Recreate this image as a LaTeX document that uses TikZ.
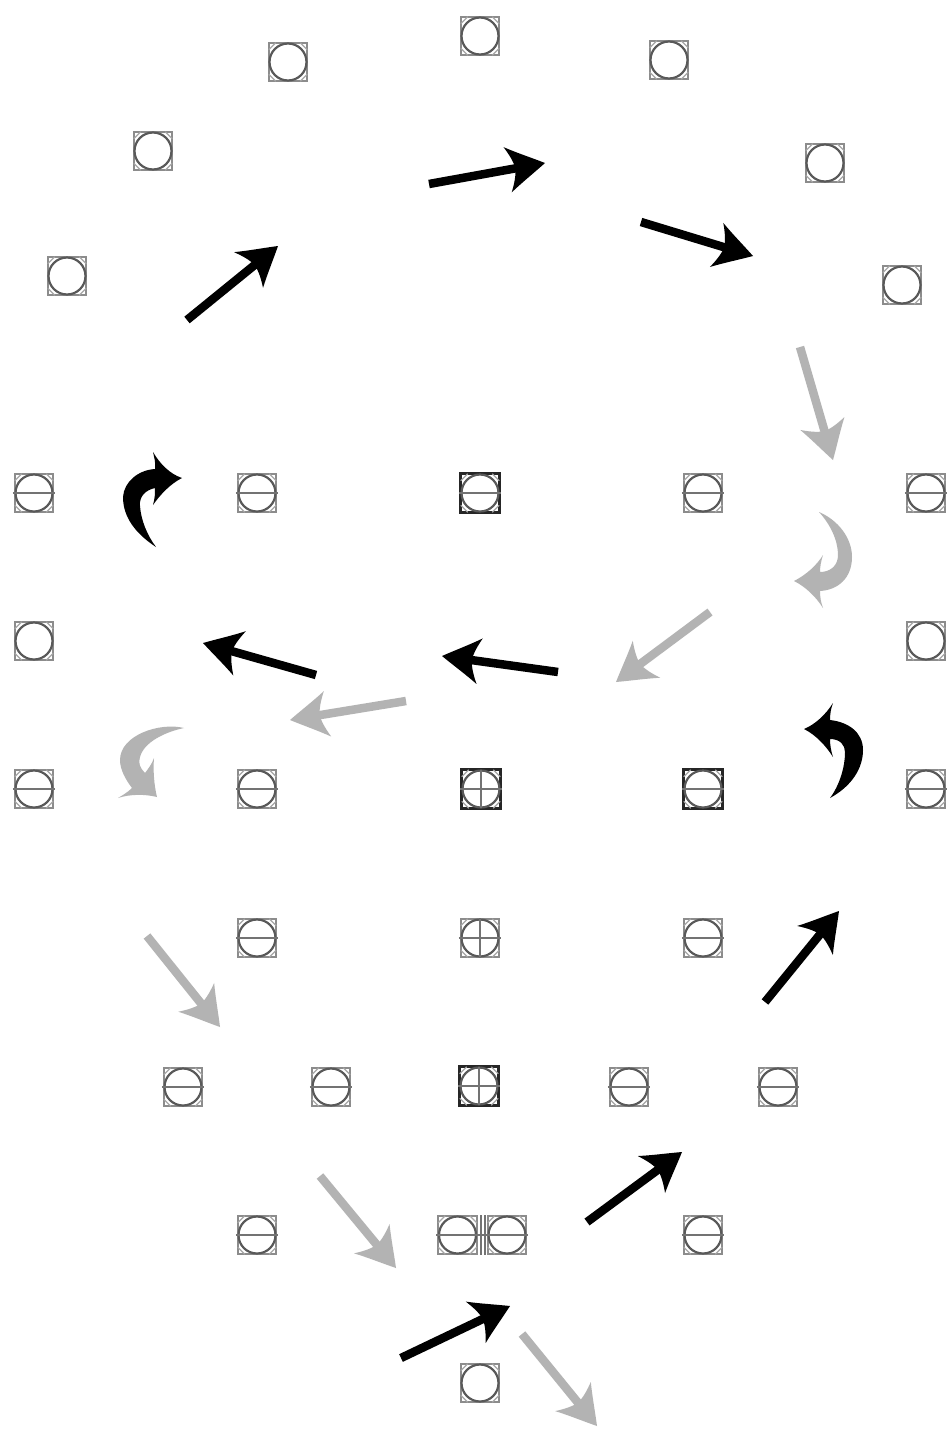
\documentclass[tikz,border=0pt]{standalone}
\usetikzlibrary{arrows.meta}
\definecolor{gr}{HTML}{B3B3B3}
\pgfdeclarearrow{
  name=SweptHead,
  setup code={
    \pgfarrowssettipend{0pt}
    \pgfarrowssetbackend{-38pt}
    \pgfarrowssetlineend{-28pt}
    \pgfarrowssetvisualbackend{-30pt}
  },
  drawing code={
    \pgfpathmoveto{\pgfqpoint{0pt}{0pt}}
    \pgfpathcurveto{\pgfqpoint{-13pt}{8pt}}{\pgfqpoint{-26pt}{15pt}}{\pgfqpoint{-38pt}{23pt}}
    \pgfpathcurveto{\pgfqpoint{-34pt}{15pt}}{\pgfqpoint{-31pt}{8pt}}{\pgfqpoint{-30pt}{0pt}}
    \pgfpathcurveto{\pgfqpoint{-31pt}{-8pt}}{\pgfqpoint{-34pt}{-15pt}}{\pgfqpoint{-38pt}{-23pt}}
    \pgfpathcurveto{\pgfqpoint{-26pt}{-15pt}}{\pgfqpoint{-13pt}{-8pt}}{\pgfqpoint{0pt}{0pt}}
    \pgfpathclose
    \pgfusepathqfill
  }
}
\tikzset{
  x=1pt,y=-1pt,
  box/.style={draw=black!45,line width=2.2pt,minimum size=38.5pt,inner sep=0pt,outer sep=0pt,rectangle},
  dark/.style={draw=black!85,line width=2.6pt},
  ring/.style={draw=black!65,line width=2.2pt},
  bar/.style={draw=black!55,line width=2.8pt},
  chord/.style={draw=black!35,line width=1.2pt},
  arrk/.style={line width=8.5pt,-{SweptHead[]}},
  arrb/.style={arrk,color=black},
  arrg/.style={arrk,color=gr},
}
\newcommand{\cellO}[4][]{\node[box,#1] (#2) at (#3,#4) {};
  \draw[ring] (#2.center) circle (18.5pt);
  \draw[chord] ([yshift=-7pt]#2.north west) -- ([xshift=7pt]#2.north west);
  \draw[chord] ([yshift=-7pt]#2.north east) -- ([xshift=-7pt]#2.north east);
  \draw[chord] ([yshift=7pt]#2.south west) -- ([xshift=7pt]#2.south west);
  \draw[chord] ([yshift=7pt]#2.south east) -- ([xshift=-7pt]#2.south east);}
\newcommand{\cellH}[4][]{\cellO[#1]{#2}{#3}{#4}
  \draw[bar] ([xshift=-2pt]#2.west) -- ([xshift=2pt]#2.east);}
\newcommand{\cellP}[4][]{\cellH[#1]{#2}{#3}{#4}
  \draw[bar] (#2.north) -- (#2.south);}
\newcommand{\arrow}[6]{\coordinate (#1s) at (#3,#4); \coordinate (#1e) at (#5,#6);
  \draw[#2] (#1s) -- (#1e);}
\begin{document}
\begin{tikzpicture}
\useasboundingbox[fill=white] (0,0) rectangle (948,1438);
% top arc
\cellO{a1}{480}{36}
\cellO{a2}{288}{62}
\cellO{a3}{669}{60}
\cellO{a4}{153}{151}
\cellO{a5}{825}{163}
\cellO{a6}{67}{276}
\cellO{a7}{902}{285}
% row 493
\cellH{b1}{34}{493}
\cellH{b2}{257}{493}
\cellH[dark]{b3}{480}{493}
\cellH{b4}{703}{493}
\cellH{b5}{926}{493}
% row 641
\cellO{c1}{34}{641}
\cellO{c2}{926}{641}
% row 789
\cellH{d1}{34}{789}
\cellH{d2}{257}{789}
\cellP[dark]{d3}{481}{789}
\cellH[dark]{d4}{703}{789}
\cellH{d5}{926}{789}
% row 938
\cellH{e1}{257}{938}
\cellP{e2}{480}{938}
\cellH{e3}{703}{938}
% row 1087
\cellH{f1}{183}{1087}
\cellH{f2}{331}{1087}
\cellP[dark]{f3}{479}{1086}
\cellH{f4}{629}{1087}
\cellH{f5}{778}{1087}
% row 1235
\cellH{g1}{257}{1235}
\cellH{g2}{457.5}{1235}
\cellH{g3}{507}{1235}
\cellH{g4}{703}{1235}
\draw[bar] (g2.east) -- (g3.west);
\coordinate (gt) at (482.5,1215);
\coordinate (gb) at (482.5,1255);
\draw[bar,line width=2pt] ([xshift=-1.5pt]gt) -- ([xshift=-1.5pt]gb);
\draw[bar,line width=2pt] ([xshift=2pt]gt) -- ([xshift=2pt]gb);
% bottom
\cellO{h1}{480}{1383}
% straight black arrows
\arrow{k1}{arrb}{187}{320}{278}{246}
\arrow{k2}{arrb}{429}{184}{545}{163}
\arrow{k3}{arrb}{641}{222}{753}{256}
\arrow{k4}{arrb}{316}{675}{203}{643}
\arrow{k5}{arrb}{558}{672}{442}{656}
\arrow{k6}{arrb}{765}{1002}{839}{911}
\arrow{k7}{arrb}{587}{1222}{682}{1152}
\arrow{k8}{arrb}{401}{1358}{510}{1306}
% straight grey arrows
\arrow{n1}{arrg}{800}{347}{833}{460}
\arrow{n2}{arrg}{710}{612}{616}{682}
\arrow{n3}{arrg}{406}{701}{290}{720}
\arrow{n4}{arrg}{147}{936}{220}{1027}
\arrow{n5}{arrg}{320}{1176}{396}{1268}
\arrow{n6}{arrg}{522}{1334}{597}{1426}
% curved arrows
\fill[black] (156,547) .. controls (130,530) and (123,512) .. (123,497)
  .. controls (124,482) and (138,470) .. (155,469)
  .. controls (156,463) and (154,457) .. (153,452)
  .. controls (160,464) and (170,474) .. (182,478)
  .. controls (170,484) and (160,495) .. (153,505)
  .. controls (155,498) and (155,493) .. (155,488)
  .. controls (146,490) and (139,496) .. (140,506)
  .. controls (141,520) and (147,535) .. (156,547) -- cycle;
\fill[gr] (819,512) .. controls (838,520) and (852,538) .. (852,557)
  .. controls (852,578) and (838,590) .. (820,591)
  .. controls (820,597) and (821,603) .. (823,608)
  .. controls (816,597) and (806,587) .. (794,581)
  .. controls (806,575) and (817,565) .. (823,555)
  .. controls (821,561) and (820,567) .. (820,572)
  .. controls (830,572) and (838,566) .. (838,555)
  .. controls (838,540) and (830,524) .. (819,512) -- cycle;
\fill[gr] (184,728) .. controls (160,722) and (120,735) .. (120,760)
  .. controls (120,770) and (126,780) .. (132,788)
  .. controls (128,792) and (123,795) .. (118,798)
  .. controls (130,794) and (145,794) .. (157,797)
  .. controls (154,785) and (153,770) .. (154,758)
  .. controls (152,764) and (148,769) .. (145,773)
  .. controls (140,768) and (138,763) .. (140,757)
  .. controls (144,742) and (165,732) .. (184,728) -- cycle;
\fill[black] (830,798) .. controls (852,786) and (863,768) .. (863,750)
  .. controls (863,732) and (848,722) .. (830,720)
  .. controls (830,714) and (831,708) .. (833,703)
  .. controls (826,714) and (816,724) .. (804,729)
  .. controls (816,735) and (826,746) .. (833,757)
  .. controls (831,751) and (830,745) .. (830,739)
  .. controls (840,739) and (845,745) .. (845,752)
  .. controls (845,768) and (839,786) .. (830,798) -- cycle;
\end{tikzpicture}
\end{document}
